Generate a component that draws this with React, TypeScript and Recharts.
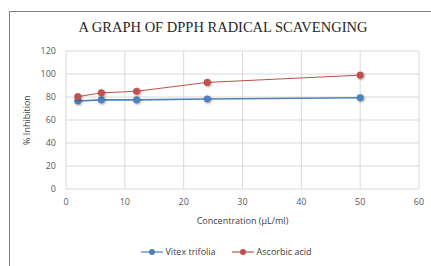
import React from 'react';
import { LineChart, Line, XAxis, YAxis, CartesianGrid, Label } from 'recharts';

const concentrations = [2, 6, 12, 24, 50];
const vitexValues = [76.5, 77.5, 77.5, 78.3, 79.4];
const ascorbicValues = [80.3, 83.6, 85, 92.7, 99];
const xTicks = [0, 10, 20, 30, 40, 50, 60];
const yTicks = [0, 20, 40, 60, 80, 100, 120];

const BLUE = '#4f81bd';
const RED = '#c0504d';
const AXIS_FONT = '"Open Sans", "Noto Sans", sans-serif';

const data = concentrations.map((c, i) => ({
  conc: c,
  vitex: vitexValues[i],
  ascorbic: ascorbicValues[i],
}));

const shadow = { filter: 'drop-shadow(1px 1px 1px rgba(0,0,0,0.35))' };

function LegendIcon({ color }: { color: string }) {
  return (
    <svg width={22} height={8} style={{ marginRight: 3, verticalAlign: 'middle' }}>
      <line x1={0} y1={4} x2={22} y2={4} stroke={color} strokeWidth={1.2} />
      <circle cx={11} cy={4} r={3} fill={color} />
    </svg>
  );
}

function ChartLegend() {
  const items = [
    { label: 'Vitex trifolia', color: BLUE },
    { label: 'Ascorbic acid', color: RED },
  ];
  return (
    <div
      style={{
        position: 'absolute', left: 0, top: 245, width: 452, display: 'flex', justifyContent: 'center',
        fontFamily: AXIS_FONT, fontSize: 9, color: '#404040',
      }}
    >
      {items.map((it) => (
        <span key={it.label} style={{ display: 'inline-flex', alignItems: 'center', margin: '0 8px' }}>
          <LegendIcon color={it.color} />
          {it.label}
        </span>
      ))}
    </div>
  );
}

export default function App() {
  return (
    <div style={{ position: 'absolute', left: 0, top: 0, width: 431, height: 266, background: '#fff', overflow: 'hidden' }}>
      <div
        style={{
          position: 'absolute', left: 9, top: 11, width: 440, height: 280,
          borderLeft: '1px solid #7f7f7f', borderTop: '1px solid #7f7f7f',
        }}
      />
      <div
        style={{
          position: 'absolute', left: 9, top: 19, width: 428, textAlign: 'center',
          fontFamily: '"Liberation Serif", "DejaVu Serif", serif', fontSize: 14.5, color: '#262626',
        }}
      >
        A GRAPH OF DPPH RADICAL SCAVENGING
      </div>
      <div style={{ position: 'absolute', left: 0, top: 0 }}>
        <LineChart width={431} height={266} data={data} margin={{ top: 51, right: 12, bottom: 37, left: 0 }}>
          <CartesianGrid stroke="#d9d9d9" strokeWidth={1} />
          <XAxis
            dataKey="conc"
            type="number"
            domain={[0, 60]}
            ticks={xTicks}
            interval={0}
            axisLine={false}
            tickLine={false}
            tick={{ fontSize: 9, fill: '#595959', fontFamily: AXIS_FONT }}
            tickMargin={4}
            height={40}
          >
            <Label
              value="Concentration (µL/ml)"
              position="insideTop"
              offset={29}
              style={{ fontSize: 9, fill: '#404040', fontFamily: AXIS_FONT }}
            />
          </XAxis>
          <YAxis
            type="number"
            domain={[0, 120]}
            ticks={yTicks}
            interval={0}
            axisLine={false}
            tickLine={false}
            width={66}
            tick={{ fontSize: 9, fill: '#595959', fontFamily: AXIS_FONT }}
            tickMargin={4}
          >
            <Label
              value="% Inhibition"
              angle={-90}
              position="insideLeft"
              offset={27}
              style={{ fontSize: 9, fill: '#404040', fontFamily: AXIS_FONT, textAnchor: 'middle' }}
            />
          </YAxis>
          <Line
            dataKey="vitex"
            name="Vitex trifolia"
            stroke={BLUE}
            strokeWidth={1.6}
            dot={{ r: 3.3, fill: BLUE, stroke: BLUE, strokeWidth: 0.5, style: shadow }}
            isAnimationActive={false}
          />
          <Line
            dataKey="ascorbic"
            name="Ascorbic acid"
            stroke={RED}
            strokeWidth={1}
            dot={{ r: 3.3, fill: RED, stroke: RED, strokeWidth: 0.5, style: shadow }}
            isAnimationActive={false}
          />
        </LineChart>
      </div>
      <ChartLegend />
    </div>
  );
}
